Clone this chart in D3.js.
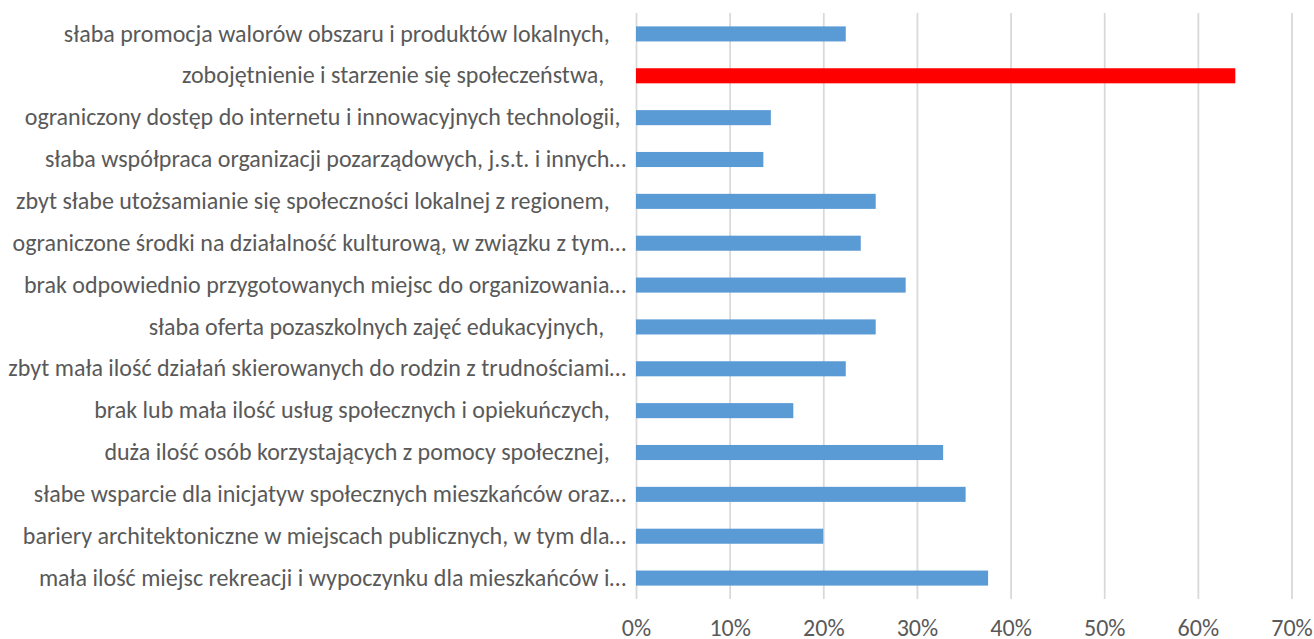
<!DOCTYPE html>
<html>
<head>
<meta charset="utf-8">
<script src="https://cdn.jsdelivr.net/npm/d3@7"></script>
<style>
  body { margin: 0; background: #fff; }
  text { font-family: Carlito, Calibri, Lato, sans-serif; fill: #595959; white-space: pre; }
</style>
</head>
<body>
<div id="container"></div>
<script>
/* DATA */
const categories = [
  "słaba promocja walorów obszaru i produktów lokalnych,   ",
  "zobojętnienie i starzenie się społeczeństwa,    ",
  "ograniczony dostęp do internetu i innowacyjnych technologii, ",
  "słaba współpraca organizacji pozarządowych, j.s.t. i innych…",
  "zbyt słabe utożsamianie się społeczności lokalnej z regionem,   ",
  "ograniczone środki na działalność kulturową, w związku z tym…",
  "brak odpowiednio przygotowanych miejsc do organizowania…",
  "słaba oferta pozaszkolnych zajęć edukacyjnych,    ",
  "zbyt mała ilość działań skierowanych do rodzin z trudnościami…",
  "brak lub mała ilość usług społecznych i opiekuńczych,   ",
  "duża ilość osób korzystających z pomocy społecznej,   ",
  "słabe wsparcie dla inicjatyw społecznych mieszkańców oraz…",
  "bariery architektoniczne w miejscach publicznych, w tym dla…",
  "mała ilość miejsc rekreacji i wypoczynku dla mieszkańców i…"
];
const values = [0.224, 0.64, 0.144, 0.136, 0.256, 0.24, 0.288, 0.256, 0.224, 0.168, 0.328, 0.352, 0.20, 0.376];
const highlighted = ["zobojętnienie i starzenie się społeczeństwa,    "];
const xTicks = [0, 0.1, 0.2, 0.3, 0.4, 0.5, 0.6, 0.7];

/* CONSTANTS */
const width = 1314, height = 639;
const margin = { top: 13, bottom: 40, left: 636, right: 22.5 };

const data = categories.map((c, i) => ({ cat: c, val: values[i] }));

const svg = d3.select("#container")
  .append("svg")
  .attr("width", width)
  .attr("height", height);

const x = d3.scaleLinear()
  .domain([0, 0.7])
  .range([margin.left, width - margin.right]);

const y = d3.scaleBand()
  .domain(categories)
  .range([margin.top, height - margin.bottom])
  .paddingInner(0.64)
  .paddingOuter(0.32);

// font size picked so the first label fits the width seen in the picture
const probe = svg.append("text").style("font-size", "100px")
  .text("słaba promocja walorów obszaru i produktów lokalnych,");
const fs = 100 * 546 / probe.node().getComputedTextLength();
probe.remove();

// GRIDLINES
svg.append("g")
  .attr("class", "grid")
  .attr("transform", `translate(0,${margin.top})`)
  .call(d3.axisBottom(x).tickValues(xTicks).tickSize(height - margin.bottom - margin.top).tickFormat(""))
  .call(g => g.select(".domain").remove())
  .call(g => g.selectAll("line").attr("stroke", "#d9d9d9").attr("stroke-width", 1.8));

// BARS
svg.selectAll(".bar")
  .data(data)
  .join("rect")
  .attr("class", "bar")
  .attr("x", x(0))
  .attr("y", d => y(d.cat))
  .attr("width", d => x(d.val) - x(0))
  .attr("height", y.bandwidth())
  .attr("fill", d => highlighted.includes(d.cat) ? "#ff0000" : "#5b9bd5");

// X AXIS LABELS
svg.append("g")
  .attr("transform", `translate(0,${height - margin.bottom})`)
  .call(d3.axisBottom(x).tickValues(xTicks).tickSize(0).tickPadding(20).tickFormat(d3.format(".0%")))
  .call(g => g.select(".domain").remove())
  .call(g => g.selectAll("text").style("font-size", fs + "px").attr("font-family", null));

// Y AXIS LABELS
svg.append("g")
  .attr("transform", `translate(${margin.left},0)`)
  .call(d3.axisLeft(y).tickSize(0).tickPadding(10))
  .call(g => g.select(".domain").remove())
  .call(g => g.selectAll("text").style("font-size", fs + "px").attr("font-family", null));
</script>
</body>
</html>
